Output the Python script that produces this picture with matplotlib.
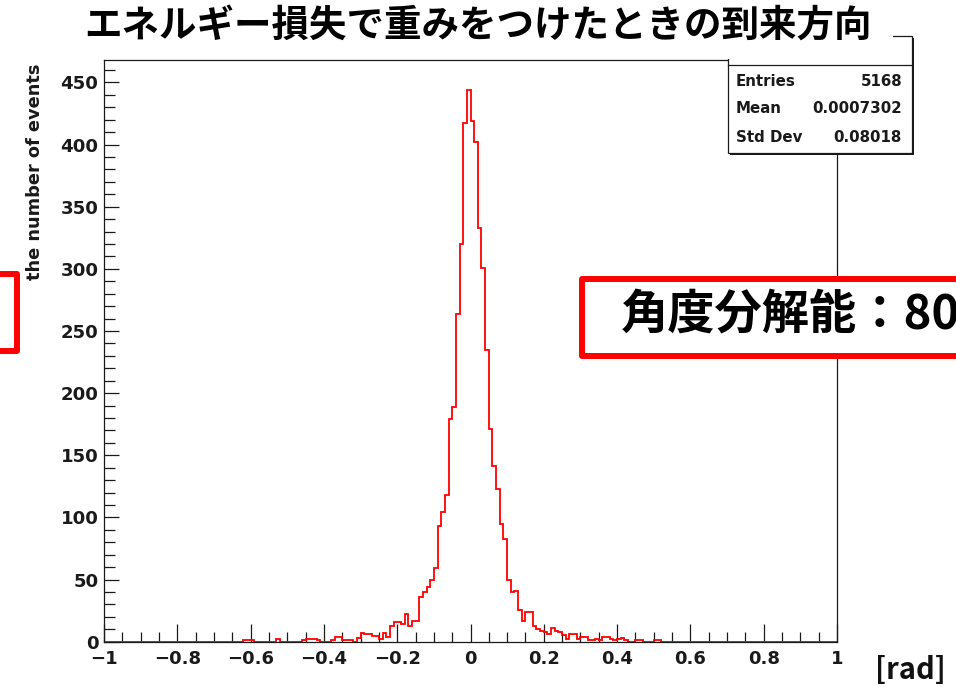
import numpy as np
import matplotlib
matplotlib.use("Agg")
import matplotlib.pyplot as plt
from matplotlib.patches import Rectangle
from matplotlib.ticker import FixedLocator, MultipleLocator, FixedFormatter

W, H = 956, 687

# ---------------- data ----------------
title = "エネルギー損失で重みをつけたときの到来方向"
ylabel = "the number of events"
unit_label = "[rad]"
note_text = "角度分解能：80"

bin_lo, bin_hi, n_bins = -1.0, 1.0, 200
first_filled_bin = -0.63          # left edge of the first listed bin
counts = [
    0, 1, 1, 1, 0, 0, 0, 0, 0, 0,            # -0.63 .. -0.54
    2, 0, 0, 0, 0, 0, 0, 1, 2, 2.5,          # -0.53 .. -0.44
    2.5, 1, 0, 0, 0, 1, 3.5, 3.5, 1, 1,      # -0.43 .. -0.34
    1, 0, 3, 7, 6, 6, 4.5, 4.5, 2.4, 7,      # -0.33 .. -0.24
    3.5, 12.5, 15.5, 15.5, 14, 22, 12.5, 16.5, 16.5, 36,   # -0.23 .. -0.14
    40, 44, 49.7, 59, 93, 104, 118, 179, 189, 264,         # -0.13 .. -0.04
    320, 417, 444, 419, 402, 333, 301, 235, 171, 141,      # -0.03 .. 0.06
    123, 94.5, 82.4, 50, 40, 41, 25.5, 17, 23.5, 24,       # 0.07 .. 0.16
    13, 10.5, 9, 8, 6, 11, 8.5, 8, 5.5, 2.5,               # 0.17 .. 0.26
    6, 6.5, 2.5, 3.5, 3.5, 1.5, 1.5, 2.5, 1.5, 3.5,        # 0.27 .. 0.36
    3.5, 2, 1.5, 2, 3, 1, 0, 0, 1, 1,                      # 0.37 .. 0.46
    0, 0, 0, 1, 1,                                         # 0.47 .. 0.51
]

stats_names = ["Entries", "Mean", "Std Dev"]
stats_values = ["5168", "0.0007302", "0.08018"]

xticks = [-1, -0.8, -0.6, -0.4, -0.2, 0, 0.2, 0.4, 0.6, 0.8, 1]
xtick_labels = ["\u22121", "\u22120.8", "\u22120.6", "\u22120.4", "\u22120.2",
                "0", "0.2", "0.4", "0.6", "0.8", "1"]
yticks = [0, 50, 100, 150, 200, 250, 300, 350, 400, 450]
ytick_labels = ["0", "50", "100", "150", "200", "250", "300", "350", "400", "450"]
y_max = 468

# ---------------- build histogram ----------------
edges = np.linspace(bin_lo, bin_hi, n_bins + 1)
values = np.zeros(n_bins)
i0 = int(round((first_filled_bin - bin_lo) / ((bin_hi - bin_lo) / n_bins)))
values[i0:i0 + len(counts)] = counts

def fx(x):
    return x / W

def fy(y):
    return 1 - y / H

fig = plt.figure(figsize=(W / 100, H / 100), dpi=100)
fig.patch.set_facecolor("white")
ax = fig.add_axes([fx(104), fy(641.7), fx(837) - fx(104), fy(60) - fy(641.7)])

ax.stairs(values, edges, color="#ff0000", linewidth=1.3, zorder=2)
ax.set_xlim(bin_lo, bin_hi)
ax.set_ylim(0, y_max)

ax.xaxis.set_major_locator(FixedLocator(xticks))
ax.xaxis.set_major_formatter(FixedFormatter(xtick_labels))
ax.xaxis.set_minor_locator(MultipleLocator(0.05))
ax.yaxis.set_major_locator(FixedLocator(yticks))
ax.yaxis.set_major_formatter(FixedFormatter(ytick_labels))
ax.yaxis.set_minor_locator(MultipleLocator(10))

for sp in ax.spines.values():
    sp.set_linewidth(0.9)
    sp.set_color("#1a1a1a")

ax.tick_params(which="both", direction="in", top=False, right=False,
               color="#1a1a1a", width=0.9)
ax.tick_params(axis="x", which="major", length=13, pad=6, labelsize=13)
ax.tick_params(axis="x", which="minor", length=7.5)
ax.tick_params(axis="y", which="major", length=11, pad=4, labelsize=13.1)
ax.tick_params(axis="y", which="minor", length=8)
for lab in ax.get_xticklabels() + ax.get_yticklabels():
    lab.set_fontfamily("DejaVu Sans")
    lab.set_fontweight("bold")
    lab.set_color("#1a1a1a")

# y axis title (ROOT style, aligned to the top)
fig.text(fx(35), fy(63), ylabel, rotation=90, ha="center", va="top",
         fontsize=12.8, fontweight="bold", family="DejaVu Sans", color="#1a1a1a")

# ---------------- stats box ----------------
sx0, sx1, sy0, sy1 = 728, 912, 36, 153
fig.add_artist(Rectangle((fx(sx0 + 2), fy(sy1 + 2)), fx(sx1) - fx(sx0), fy(sy0) - fy(sy1),
                         transform=fig.transFigure, facecolor="#1a1a1a",
                         edgecolor="none", zorder=5))
fig.add_artist(Rectangle((fx(sx0), fy(sy1)), fx(sx1) - fx(sx0), fy(sy0) - fy(sy1),
                         transform=fig.transFigure, facecolor="white",
                         edgecolor="#1a1a1a", linewidth=0.9, zorder=6))
fig.add_artist(plt.Line2D([fx(sx0), fx(sx1)], [fy(65), fy(65)],
                          transform=fig.transFigure, color="#1a1a1a",
                          linewidth=0.9, zorder=6))
row_y = [81, 108.5, 137.5]
for name, val, yy in zip(stats_names, stats_values, row_y):
    fig.text(fx(736), fy(yy), name, ha="left", va="center", fontsize=10.8,
             fontweight="bold", family="DejaVu Sans", color="#1a1a1a", zorder=7)
    fig.text(fx(902), fy(yy), val, ha="right", va="center", fontsize=10.8,
             fontweight="bold", family="DejaVu Sans", color="#1a1a1a", zorder=7)

# ---------------- title (white background block) ----------------
fig.add_artist(Rectangle((fx(60), fy(58.5)), fx(893) - fx(60), fy(0) - fy(58.5),
                         transform=fig.transFigure, facecolor="white",
                         edgecolor="none", zorder=8))
fig.text(fx(478), fy(25), title, ha="center", va="center", fontsize=27,
         fontweight="bold", family=["Noto Sans CJK JP", "DejaVu Sans"],
         color="black", zorder=9)

# ---------------- red annotation boxes ----------------
red_lw = 4.3
fig.add_artist(Rectangle((fx(-60), fy(351)), fx(17.3) - fx(-60), fy(274.4) - fy(351),
                         transform=fig.transFigure, facecolor="white",
                         edgecolor="#ff0000", linewidth=red_lw, zorder=10,
                         joinstyle="round"))
fig.add_artist(Rectangle((fx(582.2), fy(356.2)), fx(1040) - fx(582.2), fy(278.8) - fy(356.2),
                         transform=fig.transFigure, facecolor="white",
                         edgecolor="#ff0000", linewidth=red_lw, zorder=10,
                         joinstyle="round"))
fig.text(fx(621), fy(315), note_text, ha="left", va="center", fontsize=34,
         fontweight="bold", family=["Noto Sans CJK JP", "DejaVu Sans"],
         color="black", zorder=11)

# unit label
fig.text(fx(910), fy(670), unit_label, ha="center", va="center", fontsize=21,
         fontweight="bold", family=["Noto Sans CJK JP", "DejaVu Sans"],
         color="#111111", zorder=11)

fig.savefig("out.png", dpi=100, facecolor="white")
